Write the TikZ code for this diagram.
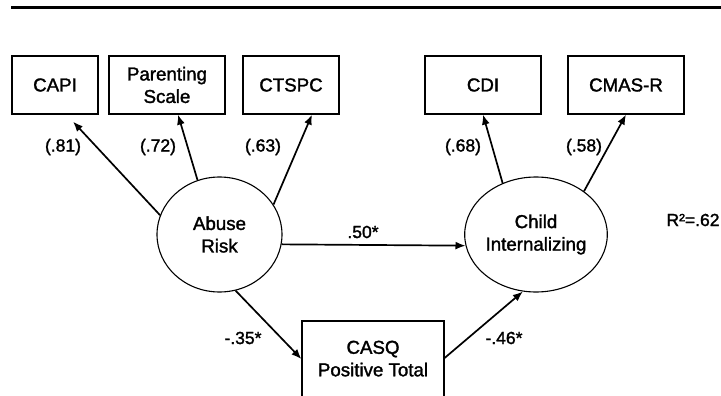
\documentclass[tikz,border=0pt]{standalone}
\usepackage{fontspec}
\setmainfont{Liberation Sans}[FakeBold=1.6]
\usetikzlibrary{arrows.meta,shapes.geometric}
\begin{document}
\begin{tikzpicture}[x=1pt,y=-1pt,
  txt/.style={font=\fontsize{18.7}{22.5}\selectfont},
  box/.style={txt, draw, line width=1.2pt, inner sep=0pt, align=center, minimum height=58pt},
  latent/.style={txt, draw, ellipse, line width=1.1pt, inner sep=0pt, align=center, minimum width=125pt, minimum height=115pt},
  arr/.style={line width=1.7pt, -{Latex[length=10pt,width=8pt]}},
  coef/.style={font=\fontsize{17.5}{20}\selectfont, inner sep=0pt}]
\useasboundingbox (0,0) rectangle (721,396);
\clip (0,0) rectangle (721,396);
% top rule
\draw[line width=3pt] (11,7.5) -- (721,7.5);
% indicator boxes
\node[box, minimum width=86pt] (capi) at (55,85) {CAPI};
\node[box, minimum width=116pt] (ps) at (167,85) {Parenting\\Scale};
\node[box, minimum width=96pt] (ctspc) at (291,85) {CTSPC};
\node[box, minimum width=116pt] (cdi) at (483,85) {CDI};
\node[box, minimum width=116pt] (cmas) at (626,85) {CMAS-R};
% latent variables
\node[latent] (ar) at (219.5,234.5) {Abuse\\Risk};
\node[latent, minimum width=124pt] (ci) at (536,234.5) {Child\\Internalizing};
% mediator
\node[box, minimum width=142pt, minimum height=80pt] (casq) at (373,361) {CASQ\\Positive Total\rule[-5pt]{0pt}{5pt}};
% connectors
\draw[arr] (ar.162) -- ([xshift=18pt,yshift=-7pt]capi.south);
\draw[arr] (ar.112) -- ([xshift=11pt]ps.south);
\draw[arr] (ar.29) -- ([xshift=21pt]ctspc.south);
\draw[arr] (ar.-9.7) -- (ci.189.7);
\draw[arr] (ar.-74.4) -- ([yshift=2pt]casq.west);
\draw[arr] ([yshift=3pt]casq.east) -- (ci.-103.7);
\draw[arr] (ci.123) -- (cdi.south);
\draw[arr] (ci.42.6) -- (cmas.south);
% coefficients
\node[coef] (l81) at (63,147) {(.81)};
\node[coef] (l72) at (158,147) {(.72)};
\node[coef] (l63) at (263,147) {(.63)};
\node[coef] (l68) at (463,147) {(.68)};
\node[coef] (l58) at (584,147) {(.58)};
\node[coef] (l50) at (363,232) {.50*};
\node[coef] (l35) at (243,338) {-.35*};
\node[coef] (l46) at (504,338) {-.46*};
\node[coef] (r2) at (693,220) {R²=.62};
\end{tikzpicture}
\end{document}
